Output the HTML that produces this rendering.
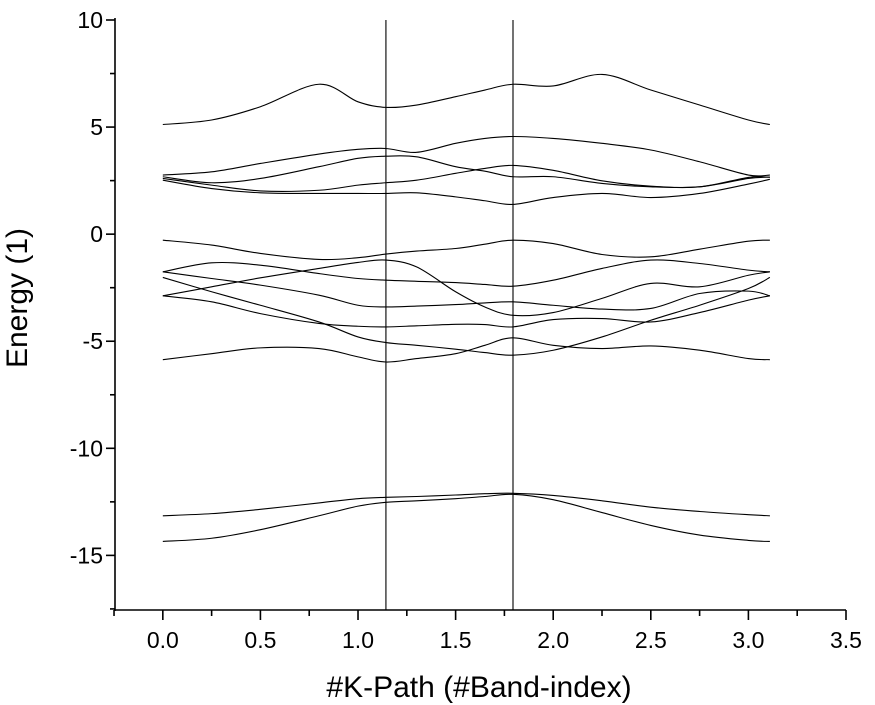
<!DOCTYPE html>
<html><head><meta charset="utf-8"><style>
html,body{margin:0;padding:0;background:#fff;}
svg{display:block;font-family:"Liberation Sans",Arial,sans-serif;}
</style></head><body>
<svg id="chart" width="875" height="705" viewBox="0 0 875 705" xmlns="http://www.w3.org/2000/svg">
<g id="bands"></g>
<g id="axes"></g>
<text transform="translate(27,298) rotate(-90)" text-anchor="middle" font-size="30">Energy (1)</text>
<text x="479" y="697" text-anchor="middle" font-size="30">#K-Path (#Band-index)</text>
</svg>
<script>
const kx = [0,0.25,0.5,0.8,1.0,1.143,1.3,1.5,1.65,1.794,2.0,2.25,2.5,2.75,3.0,3.11];
const bandTop = [5.12,5.33,5.95,7.0,6.18,5.92,6.03,6.42,6.73,7.0,6.92,7.46,6.73,6.03,5.33,5.12];
const bandC4 = [2.76,2.91,3.30,3.74,3.96,4.0,3.82,4.24,4.47,4.56,4.47,4.24,3.93,3.38,2.76,2.76];
const bandC3 = [2.68,2.40,2.60,3.15,3.54,3.64,3.61,3.15,2.94,2.68,2.68,2.37,2.21,2.21,2.60,2.66];
const bandC2 = [2.60,2.29,2.02,2.05,2.29,2.40,2.52,2.84,3.07,3.21,2.98,2.49,2.24,2.21,2.65,2.66];
const bandC1 = [2.52,2.13,1.93,1.90,1.90,1.90,1.93,1.74,1.56,1.39,1.71,1.90,1.71,1.90,2.34,2.56];
const bandV1 = [-0.28,-0.51,-0.90,-1.18,-1.10,-0.93,-0.79,-0.67,-0.47,-0.28,-0.44,-0.95,-1.06,-0.70,-0.33,-0.28];
const bandVA = [-1.76,-1.34,-1.45,-1.84,-2.07,-2.15,-2.20,-2.26,-2.35,-2.43,-2.15,-1.60,-1.21,-1.37,-1.68,-1.76];
const bandVB = [-2.88,-2.46,-2.04,-1.60,-1.32,-1.21,-1.53,-2.69,-3.40,-3.79,-3.66,-3.00,-2.30,-2.46,-1.92,-1.76];
const bandVC = [-2.02,-2.69,-3.32,-4.10,-4.80,-5.06,-5.19,-5.37,-5.53,-5.65,-5.42,-4.80,-4.02,-3.32,-2.54,-2.02];
const bandVD = [-2.88,-3.16,-3.71,-4.17,-4.30,-4.33,-4.28,-4.21,-4.22,-4.33,-3.99,-3.94,-4.10,-3.66,-3.08,-2.88];
const bandVF = [-1.76,-2.07,-2.38,-2.85,-3.32,-3.40,-3.36,-3.29,-3.21,-3.16,-3.32,-3.50,-3.47,-2.77,-2.66,-2.88];
const bandV7 = [-5.86,-5.58,-5.31,-5.34,-5.73,-5.97,-5.81,-5.58,-5.19,-4.84,-5.19,-5.34,-5.22,-5.42,-5.81,-5.86];
const bandL2 = [-13.15,-13.05,-12.85,-12.55,-12.35,-12.29,-12.25,-12.18,-12.12,-12.1,-12.2,-12.45,-12.75,-12.95,-13.1,-13.15];
const bandL1 = [-14.35,-14.2,-13.8,-13.15,-12.7,-12.52,-12.45,-12.35,-12.25,-12.15,-12.4,-13.0,-13.6,-14.05,-14.3,-14.35];
const kPoints = [1.143,1.794];
const xTicks = [0,0.5,1.0,1.5,2.0,2.5,3.0,3.5];
const xTickLabels = ["0.0","0.5","1.0","1.5","2.0","2.5","3.0","3.5"];
const yTicks = [-15,-10,-5,0,5,10];
const yTickLabels = ["-15","-10","-5","0","5","10"];

const NS="http://www.w3.org/2000/svg";
const X0=115,X1=846,Y0=610,Y1=20;
const xMin=-0.245,xMax=3.5,yMin=-17.55,yMax=10;
function sx(v){return X0+(v-xMin)/(xMax-xMin)*(X1-X0);}
function sy(v){return Y0-(v-yMin)/(yMax-yMin)*(Y0-Y1);}
function mk(tag,attrs,parent){const e=document.createElementNS(NS,tag);for(const k in attrs)e.setAttribute(k,attrs[k]);parent.appendChild(e);return e;}

const bandsG=document.getElementById('bands');
const allBands=[["band-top",bandTop],["band-c4",bandC4],["band-c3",bandC3],["band-c2",bandC2],["band-c1",bandC1],["band-v1",bandV1],["band-va",bandVA],["band-vb",bandVB],["band-vc",bandVC],["band-vd",bandVD],["band-vf",bandVF],["band-v7",bandV7],["band-low2",bandL2],["band-low1",bandL1]];
function pathFor(vals){
  const p=kx.map((x,i)=>[sx(x),sy(vals[i])]);
  let d="M"+p[0][0].toFixed(2)+","+p[0][1].toFixed(2);
  for(let i=0;i<p.length-1;i++){
    const a=p[Math.max(0,i-1)],b=p[i],c=p[i+1],e=p[Math.min(p.length-1,i+2)];
    const c1=[b[0]+(c[0]-a[0])/6,b[1]+(c[1]-a[1])/6];
    const c2=[c[0]-(e[0]-b[0])/6,c[1]-(e[1]-b[1])/6];
    d+=" C"+c1[0].toFixed(2)+","+c1[1].toFixed(2)+" "+c2[0].toFixed(2)+","+c2[1].toFixed(2)+" "+c[0].toFixed(2)+","+c[1].toFixed(2);
  }
  return d;
}
allBands.forEach(([name,vals])=>{
  const el=mk('path',{d:pathFor(vals),fill:'none',stroke:'#000','stroke-width':1.1},bandsG);
  
  
});
kPoints.forEach((k,i)=>{
  const el=mk('line',{x1:sx(k),x2:sx(k),y1:Y1,y2:Y0,stroke:'#000','stroke-width':1.1},bandsG);
  
  
});

const ax=document.getElementById('axes');
let e=mk('line',{x1:X0,x2:X0,y1:Y1-2,y2:Y0+1,stroke:'#000','stroke-width':1.6},ax);


e=mk('line',{x1:X0-1,x2:X1,y1:Y0,y2:Y0,stroke:'#000','stroke-width':1.6},ax);


xTicks.forEach((t,i)=>{
  const x=sx(t);
  let l=mk('line',{x1:x,x2:x,y1:Y0,y2:Y0+10,stroke:'#000','stroke-width':1.6},ax);
  
  
  const m=mk('line',{x1:sx(t-0.25),x2:sx(t-0.25),y1:Y0,y2:Y0+6,stroke:'#000','stroke-width':1.6},ax);
  
  
  const tx=mk('text',{x:x,y:648,'text-anchor':'middle','font-size':23},ax);
  tx.textContent=xTickLabels[i];
  
  
});
yTicks.forEach((t,i)=>{
  const y=sy(t);
  let l=mk('line',{x1:X0-9,x2:X0,y1:y,y2:y,stroke:'#000','stroke-width':1.6},ax);
  
  
  const m=mk('line',{x1:X0-5,x2:X0,y1:sy(t-2.5),y2:sy(t-2.5),stroke:'#000','stroke-width':1.6},ax);
  
  
  const tx=mk('text',{x:X0-12,y:y+8,'text-anchor':'end','font-size':23},ax);
  tx.textContent=yTickLabels[i];
  
  
});
</script>
</body></html>
